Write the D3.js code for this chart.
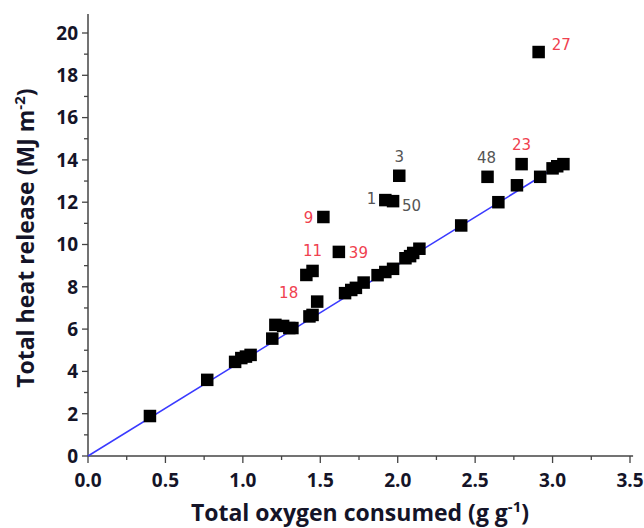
<!DOCTYPE html>
<html>
<head>
<meta charset="utf-8">
<script src="https://cdn.jsdelivr.net/npm/d3@7"></script>
<style>
  body { margin: 0; background: #fff; }
  svg { display: block; }
</style>
</head>
<body>
<div id="chart"></div>
<script>
// data
const oxygen = [0.40, 0.77, 0.95, 0.99, 1.02, 1.05, 1.19, 1.21, 1.26, 1.30, 1.32,
    1.43, 1.45, 1.48, 1.41, 1.45, 1.52, 1.62, 1.66, 1.70, 1.73, 1.78, 1.87, 1.92,
    1.97, 2.05, 2.08, 2.10, 2.14, 1.92, 1.97, 2.01, 2.41, 2.58, 2.65, 2.77, 2.80,
    2.92, 2.91, 3.00, 3.03, 3.07];
const heat = [1.89, 3.6, 4.45, 4.63, 4.7, 4.78, 5.55, 6.2, 6.15, 6.05, 6.05,
    6.6, 6.67, 7.3, 8.56, 8.75, 11.3, 9.65, 7.7, 7.85, 7.95, 8.2, 8.55, 8.7,
    8.85, 9.35, 9.45, 9.6, 9.8, 12.1, 12.05, 13.25, 10.9, 13.2, 12.0, 12.8, 13.8,
    13.2, 19.1, 13.6, 13.7, 13.8];

// sample ids for the labelled points (index into the arrays above)
const labelIds = ["27", "23", "48", "3", "1", "50", "9", "39", "11", "18"];
const labelIdx = [38, 36, 33, 31, 29, 30, 16, 17, 15, 13];
const labelRed = [true, true, false, false, false, false, true, true, true, true];

// fitted line through the origin
const fitX = [0, 3.06];
const fitY = [0, 13.83];

const xTicks = [0, 0.5, 1.0, 1.5, 2.0, 2.5, 3.0, 3.5];
const yTicks = [0, 2, 4, 6, 8, 10, 12, 14, 16, 18, 20];

const W = 644, H = 528;

const svg = d3.select("#chart").append("svg")
    .attr("width", W)
    .attr("height", H);

const x = d3.scaleLinear().domain([0, 3.5]).range([88, 630]);
const y = d3.scaleLinear().domain([0, 20]).range([456, 33]);

const tickFont = "'Open Sans', Lato, sans-serif";
const axisColor = "#444";
const textColor = "#141428";

// y axis
svg.append("line")
    .attr("x1", x(0)).attr("x2", x(0))
    .attr("y1", y(0)).attr("y2", y(20.9))
    .attr("stroke", axisColor).attr("stroke-width", 1.5);

svg.append("g").selectAll("line")
    .data(d3.range(0, 21, 1))
    .join("line")
        .attr("x1", x(0))
        .attr("x2", d => x(0) - (d % 2 == 0 ? 6 : 4))
        .attr("y1", d => y(d)).attr("y2", d => y(d))
        .attr("stroke", axisColor).attr("stroke-width", 1.3);

svg.append("g").selectAll("text")
    .data(yTicks)
    .join("text")
        .attr("x", x(0) - 10)
        .attr("y", d => y(d))
        .attr("dy", "0.36em")
        .attr("text-anchor", "end")
        .attr("font-family", tickFont)
        .attr("font-weight", "bold")
        .attr("font-size", 19)
        .attr("fill", textColor)
        .text(d => d);

// x axis
svg.append("line")
    .attr("x1", x(0)).attr("x2", x(3.52))
    .attr("y1", y(0)).attr("y2", y(0))
    .attr("stroke", axisColor).attr("stroke-width", 1.5);

svg.append("g").selectAll("line")
    .data(d3.range(0, 15).map(i => i * 0.25))
    .join("line")
        .attr("x1", d => x(d)).attr("x2", d => x(d))
        .attr("y1", y(0))
        .attr("y2", (d, i) => y(0) + (i % 2 == 0 ? 7 : 4))
        .attr("stroke", axisColor).attr("stroke-width", 1.3);

svg.append("g").selectAll("text")
    .data(xTicks)
    .join("text")
        .attr("x", d => x(d))
        .attr("y", y(0) + 31)
        .attr("text-anchor", "middle")
        .attr("font-family", tickFont)
        .attr("font-weight", "bold")
        .attr("font-size", 19)
        .attr("fill", textColor)
        .text(d => d.toFixed(1));

// axis titles
const xTitle = svg.append("text")
    .attr("x", 360)
    .attr("y", 521)
    .attr("text-anchor", "middle")
    .attr("font-family", tickFont)
    .attr("font-weight", "bold")
    .attr("font-size", 23)
    .attr("fill", textColor);
xTitle.append("tspan").text("Total oxygen consumed (g g");
xTitle.append("tspan").attr("dy", -9).attr("font-size", 15).text("-1");
xTitle.append("tspan").attr("dy", 9).text(")");

const yTitle = svg.append("text")
    .attr("transform", `translate(34, ${y(10.3)}) rotate(-90)`)
    .attr("text-anchor", "middle")
    .attr("font-family", tickFont)
    .attr("font-weight", "bold")
    .attr("font-size", 23)
    .attr("fill", textColor);
yTitle.append("tspan").text("Total heat release (MJ m");
yTitle.append("tspan").attr("dy", -9).attr("font-size", 15).text("-2");
yTitle.append("tspan").attr("dy", 9).text(")");

// fit line
svg.append("line")
    .attr("x1", x(fitX[0])).attr("y1", y(fitY[0]))
    .attr("x2", x(fitX[1])).attr("y2", y(fitY[1]))
    .attr("stroke", "#3a3aff").attr("stroke-width", 1.5);

// points
const size = 12.5;
svg.append("g").selectAll("rect")
    .data(oxygen.map((d, i) => [d, heat[i]]))
    .join("rect")
        .attr("x", d => x(d[0]) - size / 2)
        .attr("y", d => y(d[1]) - size / 2)
        .attr("width", size)
        .attr("height", size)
        .attr("fill", "#000");

// label offsets (px from point centre)
const offsets = {
    "27": [13, -2, "start"],
    "23": [0, -14, "middle"],
    "48": [-1, -14, "middle"],
    "3": [0, -14, "middle"],
    "1": [-9, 4, "end"],
    "50": [9, 10, "start"],
    "9": [-10, 6, "end"],
    "39": [10, 6, "start"],
    "11": [0, -15, "middle"],
    "18": [-19, -4, "end"]
};

svg.append("g").selectAll("text")
    .data(labelIds)
    .join("text")
        .attr("x", (d, i) => x(oxygen[labelIdx[i]]) + offsets[d][0])
        .attr("y", (d, i) => y(heat[labelIdx[i]]) + offsets[d][1])
        .attr("text-anchor", d => offsets[d][2])
        .attr("font-family", "'DejaVu Sans', Verdana, sans-serif")
        .attr("font-size", 15)
        .attr("fill", (d, i) => labelRed[i] ? "#f0414f" : "#555")
        .text(d => d);
</script>
</body>
</html>
